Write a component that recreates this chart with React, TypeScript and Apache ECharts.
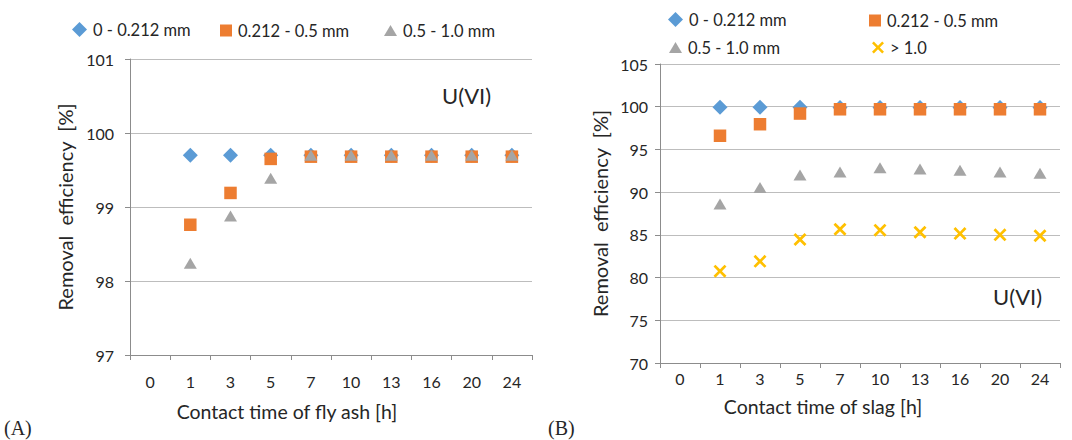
import React, { useEffect, useRef } from "react";
import * as echarts from "echarts";

const categories = ["0", "1", "3", "5", "7", "10", "13", "16", "20", "24"];

// (A) fly ash
const ashFine = ["-", 99.7, 99.7, 99.7, 99.7, 99.7, 99.7, 99.7, 99.7, 99.7];
const ashMid = ["-", 98.76, 99.19, 99.65, 99.68, 99.68, 99.68, 99.68, 99.68, 99.68];
const ashCoarse = ["-", 98.24, 98.88, 99.39, 99.7, 99.7, 99.7, 99.7, 99.7, 99.7];

// (B) slag
const slagFine = ["-", 99.95, 99.95, 99.95, 99.9, 99.9, 99.9, 99.9, 99.9, 99.9];
const slagMid = ["-", 96.6, 97.95, 99.2, 99.7, 99.7, 99.7, 99.7, 99.7, 99.7];
const slagCoarse = ["-", 88.6, 90.55, 92.0, 92.35, 92.85, 92.7, 92.55, 92.35, 92.2];
const slagLarge = ["-", 80.75, 81.9, 84.45, 85.65, 85.55, 85.3, 85.15, 85.0, 84.9];

const seriesNames = ["0 - 0.212 mm", "0.212 - 0.5 mm", "0.5 - 1.0 mm", "> 1.0"];

const FONT = "Lato";
const DIAMOND = "path://M5,0 L10,5 L5,10 L0,5 Z";
const CROSS =
  "path://M0,1.5 L1.5,0 L5,3.5 L8.5,0 L10,1.5 L6.5,5 L10,8.5 L8.5,10 L5,6.5 L1.5,10 L0,8.5 L3.5,5 Z";

const BLUE = "#5B9BD5";
const ORANGE = "#ED7D31";
const GRAY = "#A5A5A5";
const YELLOW = "#FFC000";
const TEXT = "#262626";

export default function App() {
  const ref = useRef<HTMLDivElement>(null);

  useEffect(() => {
    if (!ref.current) return;
    const chart = echarts.init(ref.current, null, { renderer: "svg" });

    const xAxisBase = (
      gridIndex: number,
      name: string,
      nameGap: number,
      labelMargin: number,
      shiftLeft: number
    ) => ({
      type: "category",
      gridIndex,
      data: categories,
      boundaryGap: true,
      name,
      nameLocation: "middle",
      nameGap,
      nameMoveOverlap: false,
      nameTextStyle: {
        fontFamily: FONT,
        fontSize: 19.5,
        color: TEXT,
        padding: [0, shiftLeft * 2, 0, 0],
      },
      axisLine: { show: true, lineStyle: { color: "#8C8C8C", width: 1 } },
      axisTick: { show: true, inside: false, length: 5, lineStyle: { color: "#8C8C8C" } },
      axisLabel: { fontFamily: FONT, fontSize: 16, color: TEXT, margin: labelMargin },
      splitLine: { show: false },
    });

    const yAxisBase = (
      gridIndex: number,
      min: number,
      max: number,
      interval: number,
      nameGap: number,
      labelMargin: number
    ) => ({
      type: "value",
      gridIndex,
      min,
      max,
      interval,
      name: "Removal  efficiency  [%]",
      nameLocation: "middle",
      nameGap,
      nameMoveOverlap: false,
      nameTextStyle: { fontFamily: FONT, fontSize: 20, color: TEXT },
      axisLine: { show: true, lineStyle: { color: "#8C8C8C", width: 1 } },
      axisTick: { show: true, inside: false, length: 5, lineStyle: { color: "#8C8C8C" } },
      axisLabel: { fontFamily: FONT, fontSize: 16, color: TEXT, margin: labelMargin },
      splitLine: { show: true, lineStyle: { color: "#BDBDBD", width: 1 } },
    });

    const mk = (
      name: string,
      data: any[],
      idx: number,
      symbol: string,
      size: any,
      color: string
    ) => ({
      name,
      type: "scatter",
      xAxisIndex: idx,
      yAxisIndex: idx,
      data,
      symbol,
      symbolSize: size,
      itemStyle: { color, opacity: 1 },
      emphasis: { disabled: true },
    });

    const legendItem = (name: string, left: number, top: number, icon: string, w = 13, h = 13) => ({
      data: [{ name, icon }],
      left,
      top,
      itemWidth: w,
      itemHeight: h,
      padding: 0,
      itemGap: 0,
      selectedMode: false,
      textStyle: { fontFamily: FONT, fontSize: 16.5, color: TEXT, padding: [0, 0, 0, 1] },
    });

    chart.setOption({
      animation: false,
      backgroundColor: "#ffffff",
      grid: [
        { left: 130, right: 540, top: 59, bottom: 85 },
        { left: 660, right: 12, top: 64, bottom: 77 },
      ],
      xAxis: [
        xAxisBase(0, "Contact time of fly ash [h]", 46, 18, 44),
        xAxisBase(1, "Contact time of slag [h]", 33, 7, 37),
      ],
      yAxis: [yAxisBase(0, 97, 101, 1, 55, 16), yAxisBase(1, 70, 105, 5, 50, 12)],
      legend: [
        legendItem(seriesNames[0], 72, 21, DIAMOND, 15, 15),
        legendItem(seriesNames[1], 220, 22, "rect", 12, 12),
        legendItem(seriesNames[2], 384, 22, "triangle", 13, 11),
        legendItem(seriesNames[0], 668, 11, DIAMOND, 15, 15),
        legendItem(seriesNames[1], 869, 12, "rect", 12, 12),
        legendItem(seriesNames[2], 669, 39, "triangle", 13, 11),
        legendItem(seriesNames[3], 872, 39, CROSS, 12, 12),
      ],
      graphic: [
        {
          type: "text",
          left: 442,
          top: 84,
          style: { text: "U(VI)", fontFamily: FONT, fontSize: 22, fill: TEXT },
        },
        {
          type: "text",
          left: 993,
          top: 285,
          style: { text: "U(VI)", fontFamily: FONT, fontSize: 22, fill: TEXT },
        },
        {
          type: "text",
          left: 4,
          top: 418,
          style: { text: "(A)", fontFamily: "Liberation Serif", fontSize: 20, fill: TEXT },
        },
        {
          type: "text",
          left: 548,
          top: 418,
          style: { text: "(B)", fontFamily: "Liberation Serif", fontSize: 20, fill: TEXT },
        },
      ],
      series: [
        mk(seriesNames[0], ashFine, 0, DIAMOND, 15, BLUE),
        mk(seriesNames[1], ashMid, 0, "rect", 12.5, ORANGE),
        mk(seriesNames[2], ashCoarse, 0, "triangle", [13, 11], GRAY),
        mk(seriesNames[0], slagFine, 1, DIAMOND, 15, BLUE),
        mk(seriesNames[1], slagMid, 1, "rect", 12.5, ORANGE),
        mk(seriesNames[2], slagCoarse, 1, "triangle", [13, 11], GRAY),
        mk(seriesNames[3], slagLarge, 1, CROSS, 13, YELLOW),
      ],
    });

    return () => chart.dispose();
  }, []);

  return (
    <div
      ref={ref}
      style={{ position: "fixed", left: 0, top: 0, width: 1072, height: 440, background: "#fff" }}
    />
  );
}
